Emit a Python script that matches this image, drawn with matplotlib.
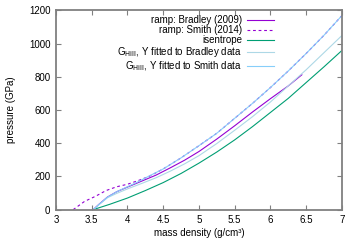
import matplotlib
matplotlib.use("Agg")
import matplotlib.pyplot as plt

# ramp: Bradley (2009)
brad_rho = [3.52, 3.6, 3.72, 3.85, 4.0, 4.2, 4.4, 4.6, 4.8, 5.0, 5.25, 5.5, 5.75, 6.0, 6.25, 6.44]
brad_p = [0, 32, 76, 108, 136, 172, 208, 252, 298, 350, 425, 505, 588, 668, 745, 812]

# ramp: Smith (2014)
smith_rho = [3.24, 3.4, 3.55, 3.7, 3.85, 4.0, 4.15, 4.3, 4.5, 4.75, 5.0, 5.25, 5.5, 5.75, 6.0, 6.25, 6.5, 6.75, 7.0]
smith_p = [0, 50, 80, 115, 138, 153, 175, 200, 245, 312, 385, 460, 550, 640, 735, 835, 940, 1050, 1168]

# isentrope
isen_rho = [3.52, 3.75, 4.0, 4.25, 4.5, 4.75, 5.0, 5.25, 5.5, 5.75, 6.0, 6.25, 6.5, 6.75, 7.0]
isen_p = [0, 32, 70, 115, 163, 218, 280, 347, 420, 500, 585, 670, 765, 860, 958]

# G_Hill, Y fitted to Bradley data
hillb_rho = [3.52, 3.6, 3.72, 3.85, 4.0, 4.2, 4.4, 4.6, 4.8, 5.0, 5.25, 5.5, 5.75, 6.0, 6.25, 6.5, 6.75, 7.0]
hillb_p = [0, 30, 72, 98, 125, 158, 192, 232, 276, 325, 398, 478, 560, 648, 745, 842, 945, 1048]

# G_Hill, Y fitted to Smith data
hills_rho = [3.52, 3.6, 3.72, 3.85, 4.0, 4.15, 4.3, 4.5, 4.75, 5.0, 5.25, 5.5, 5.75, 6.0, 6.25, 6.5, 6.75, 7.0]
hills_p = [0, 30, 75, 108, 138, 168, 202, 245, 312, 385, 460, 550, 640, 735, 835, 940, 1050, 1168]

plt.rcParams["font.family"] = ["Liberation Sans", "DejaVu Sans"]
plt.rcParams["font.size"] = 7

fig = plt.figure(figsize=(3.6, 2.52), dpi=100)
ax = fig.add_axes([0.1556, 0.168, 0.794, 0.791])

ax.plot(brad_rho, brad_p, color="#9400d3", lw=0.8, label="ramp: Bradley (2009)")
ax.plot(smith_rho, smith_p, color="#9400d3", lw=0.8, dashes=(2.5, 2.5), label="ramp: Smith (2014)")
ax.plot(isen_rho, isen_p, color="#009e73", lw=0.8, label="isentrope")
ax.plot(hillb_rho, hillb_p, color="#add8e6", lw=0.8, label=r"G$_{\rm Hill}$, Y fitted to Bradley data")
ax.plot(hills_rho, hills_p, color="#87cefa", lw=0.8, label=r"G$_{\rm Hill}$, Y fitted to Smith data")

ax.set_xlim(3, 7)
ax.set_ylim(0, 1200)
ax.set_xticks([3, 3.5, 4, 4.5, 5, 5.5, 6, 6.5, 7])
ax.set_xticklabels(["3", "3.5", "4", "4.5", "5", "5.5", "6", "6.5", "7"])
ax.set_yticks(range(0, 1201, 200))
ax.tick_params(direction="in", top=True, right=True, length=3.5, width=0.8,
               color="#808080", pad=4, labelsize=7)
for s in ax.spines.values():
    s.set_color("#808080")
    s.set_linewidth(1.3)

ax.set_xlabel("mass density (g/cm³)", fontsize=7, labelpad=2)
ax.set_ylabel("pressure (GPa)", fontsize=7, labelpad=9)

ax.legend(loc="upper right", bbox_to_anchor=(0.78, 1.0), frameon=False,
          markerfirst=False, fontsize=7, handlelength=2.8, handletextpad=0.5,
          labelspacing=0.0, borderaxespad=0.3, borderpad=0.2)

plt.savefig("out.png", dpi=100)
plt.close()
